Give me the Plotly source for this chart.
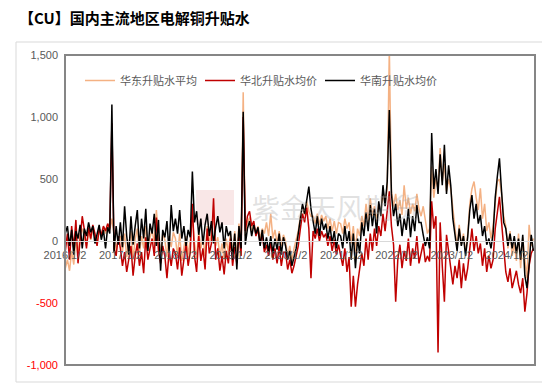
import pandas as pd
import plotly.graph_objects as go

# ---------------- data (biweekly readings, 2016-01 .. 2024-06) ----------------
series_names = ["华东升贴水平均", "华北升贴水均价", "华南升贴水均价"]
series_colors = ["#F4B183", "#C00000", "#000000"]
start_date = "2016-01-04"
step_days = 14

east = (
    [-220, -150, -240, -80, -190, 30, -120, 60, 100, 40, -40, 80, 10, 110, 50, -20, 90, 30, 110, 60, 130, 90, 180, 60, -80, 20]  # 2016
    + [40, -80, 60, -130, -20, 80, -150, 20, 100, -100, 40, -60, 120, -40, 30, 90, -20, 250, 40, -110, 60, 10, -130, 40, -50, 70]  # 2017
    + [20, -120, 60, -160, -50, 40, -110, 10, 200, -20, -140, 80, -60, 30, -120, 120, -20, 70, 250, -40, 30, -130, -20, -150, 20, -90]  # 2018
    + [60, -100, 80, -140, 140, -40, 1200, 40, 150, 190, 80, 140, 60, 120, 20, 100, 60, 150, 40, 220, 20, 90, -20, 80, -40, 50]  # 2019
    + [0, -120, -40, -160, -60, 0, 80, 200, 280, 210, 320, 240, 200, 200, 140, 220, 130, 210, 160, 200, 100, 180, 80, 160, 60, 150]  # 2020
    + [140, 60, 180, 100, 150, -20, 120, -80, 100, 40, 200, 120, 300, 160, 345, 200, 280, 160, 300, 240, 400, 300, 420, 1550, 400, 280]  # 2021
    + [380, 250, 330, 210, 450, 260, 350, 220, 300, 240, 380, 260, 200, 280, 180, 60, 100, 600, 350, 500, 420, 750, 480, 620, 400, 500]  # 2022
    + [420, 250, 80, -50, 130, -30, 60, -100, 50, 300, 420, 480, 350, 250, 425, 180, 300, 80, 150, 20, 120, 300, 480, 500, 380, 200]  # 2023
    + [120, -60, 80, -120, -20, -160, 60, -220, 30, -150, -300, 130, -40, 20]  # 2024
)

north = (
    [-80, 60, -150, 120, -60, 170, -180, 40, 200, 90, -60, 110, 20, 130, 60, -40, 100, 50, 120, 80, 140, 100, 950, -60, -120, 40]
    + [-60, -200, -90, -250, -140, -40, -280, -120, -20, -200, -90, -260, 30, -150, -60, 20, -120, 190, -80, -180, -40, -120, -300, -90, -200, -60]
    + [-100, -230, -50, -280, -150, -20, -200, -90, 300, -120, -250, 40, -160, -60, -230, 100, -100, -20, 345, -150, -60, -240, -120, -270, -80, -180]
    + [20, -200, -50, -180, 60, -120, 1000, 80, 200, 240, 120, 160, 40, 90, -20, 60, -90, -30, -120, -10, -150, -60, -180, -40, -200, -90]
    + [-90, -230, -150, -260, -200, -120, -40, 100, 220, 150, 270, 100, -300, 80, 20, 100, 0, 80, 30, 60, -40, 40, -80, 10, -110, -30]
    + [-110, -200, -60, -250, -130, -530, -280, -530, -350, -220, -100, -200, 20, -150, 60, -80, 100, -40, 120, 40, 220, 80, 260, 400, 120, -30]
    + [-490, -150, -30, -220, -80, -160, 20, -200, -60, -140, 40, -180, -100, -20, -170, -120, -165, 320, 100, 200, -900, 150, -200, -490, 50, -100]
    + [-250, -350, -200, -300, -150, -380, -180, -320, -220, -50, 100, -80, 40, -100, -20, -200, -60, -250, -120, -220, -150, 100, 250, 357, 150, -50]
    + [-250, -330, -220, -380, -300, -240, -350, -420, -300, -570, -420, -200, -100, -60]
)

south = (
    [60, 120, -40, 90, -110, 80, 20, 130, -60, 100, 40, 150, 70, 120, -20, 60, 130, 10, 90, -60, 110, 60, 1100, -90, 120, -30]
    + [150, -50, 280, 40, -110, 200, -30, 120, 250, -60, 180, 20, 260, -80, 140, 60, 220, -40, 170, -240, 90, 30, 160, -90, 290, 80]
    + [180, 60, 250, 20, 120, -40, 90, 30, 560, 150, 240, 50, 180, -30, 130, 220, 40, 160, -20, 110, 200, 70, 150, -60, 120, 40]
    + [80, -150, 60, -230, 120, -60, 1043, -30, 100, 160, 40, 130, 60, 110, -40, 90, -60, 30, -90, 40, -100, 20, -70, 60, -110, 30]
    + [-40, -150, -80, -200, -120, -60, 60, 180, 300, 220, 340, 438, 260, 150, 60, 200, 40, 180, 90, 140, 20, 120, -20, 80, -60, 60]
    + [40, -60, 120, -20, 80, -150, 60, -220, 20, -100, 150, 40, 230, 80, 290, 120, 260, 60, 320, 200, 450, 280, 480, 1056, 380, 200]
    + [300, 120, 220, 40, 180, 90, 260, 30, 200, 80, 290, 150, 150, 50, -40, 30, -60, 870, 420, 580, 380, 700, 450, 775, 380, 610]
    + [450, 180, 60, -80, 100, -40, 40, -120, 30, 250, 370, 180, 300, 140, 210, 40, 120, -30, 20, -60, 60, 350, 520, 667, 400, 150]
    + [100, -40, 60, -60, 40, -100, 20, -150, 50, -280, -380, -200, 50, -80]
)

x_tick_labels = ["2016/1/2", "2017/1/2", "2018/1/2", "2019/1/2", "2020/1/2",
                 "2021/1/2", "2022/1/2", "2023/1/2", "2024/1/2"]
y_tick_values = [-1000, -500, 0, 500, 1000, 1500]
x_range = ["2016-01-02", "2024-07-05"]
y_range = [-1000, 1500]

title_text = "【CU】国内主流地区电解铜升贴水"
watermark_text = "紫金天风期货"

# ---------------- figure ----------------
dates = pd.date_range(start_date, periods=len(east), freq=f"{step_days}D")
x_tick_dates = pd.to_datetime(x_tick_labels, format="%Y/%m/%d")

def fmt_y(v):
    s = f"{abs(v):,}"
    if v < 0:
        return f"<span style='color:#FF0000'>-{s}</span>"
    return s

fig = go.Figure()
for name, col, vals in zip(series_names, series_colors, [east, north, south]):
    fig.add_trace(go.Scatter(x=dates, y=vals, mode="lines", name=name,
                             line=dict(color=col, width=1.5)))

# page body adds an 8px offset, so the figure is sized to the remaining window
OFF = 8
W, H = 550 - OFF, 384 - OFF
L, R, T, B = 65 - OFF, 15, 55 - OFF, 19
pw, ph = W - L - R, H - T - B

def px(x):  # window pixel -> paper
    return (x - OFF - L) / pw

def py(y):
    return (H - B - (y - OFF)) / ph

fig.update_layout(
    width=W, height=H,
    margin=dict(l=L, r=R, t=T, b=B),
    paper_bgcolor="white", plot_bgcolor="white",
    font=dict(family="Liberation Sans, Noto Sans CJK SC", size=11, color="#595959"),
    showlegend=True,
    legend=dict(orientation="h", x=px(80), y=py(66), xanchor="left", yanchor="top",
                bgcolor="rgba(0,0,0,0)", font=dict(size=11, color="#595959",
                family="Noto Sans CJK SC"),
                entrywidth=75, entrywidthmode="pixels", itemwidth=30),
    xaxis=dict(type="date", range=x_range, tickvals=x_tick_dates, ticktext=x_tick_labels,
               anchor="free", position=(0 - y_range[0]) / (y_range[1] - y_range[0]),
               showline=True, linecolor="#D9D9D9", linewidth=1,
               showgrid=False, zeroline=False, ticks="", ticklabelstandoff=4,
               tickfont=dict(size=11, color="#595959")),
    yaxis=dict(range=y_range, tickvals=y_tick_values,
               ticktext=[fmt_y(v) for v in y_tick_values],
               showgrid=False, zeroline=False, ticks="", showline=False,
               ticklabelstandoff=6,
               tickfont=dict(size=11, color="#595959")),
)

# plot frame and outer border
fig.add_shape(type="rect", xref="paper", yref="paper", x0=0, x1=1, y0=0, y1=1,
              line=dict(color="#868686", width=2), layer="above")
fig.add_shape(type="rect", xref="paper", yref="paper",
              x0=px(16), x1=px(548), y0=py(382), y1=py(42),
              line=dict(color="#D9D9D9", width=1), layer="below")

# watermark
fig.add_shape(type="rect", xref="paper", yref="paper",
              x0=px(196), x1=px(234), y0=py(225), y1=py(190),
              line=dict(width=0), fillcolor="rgba(220,120,120,0.18)", layer="below")
fig.add_annotation(xref="paper", yref="paper", x=px(336), y=py(207), text=watermark_text,
                   showarrow=False, font=dict(size=28, color="rgba(170,170,170,0.35)",
                   family="Noto Sans CJK SC"))

# title
fig.add_annotation(xref="paper", yref="paper", x=px(17), y=py(17), xanchor="left",
                   yanchor="middle", text=f"<b>{title_text}</b>", showarrow=False,
                   font=dict(size=15, color="#000000", family="Noto Sans CJK SC"))

fig.write_html("out.html")
